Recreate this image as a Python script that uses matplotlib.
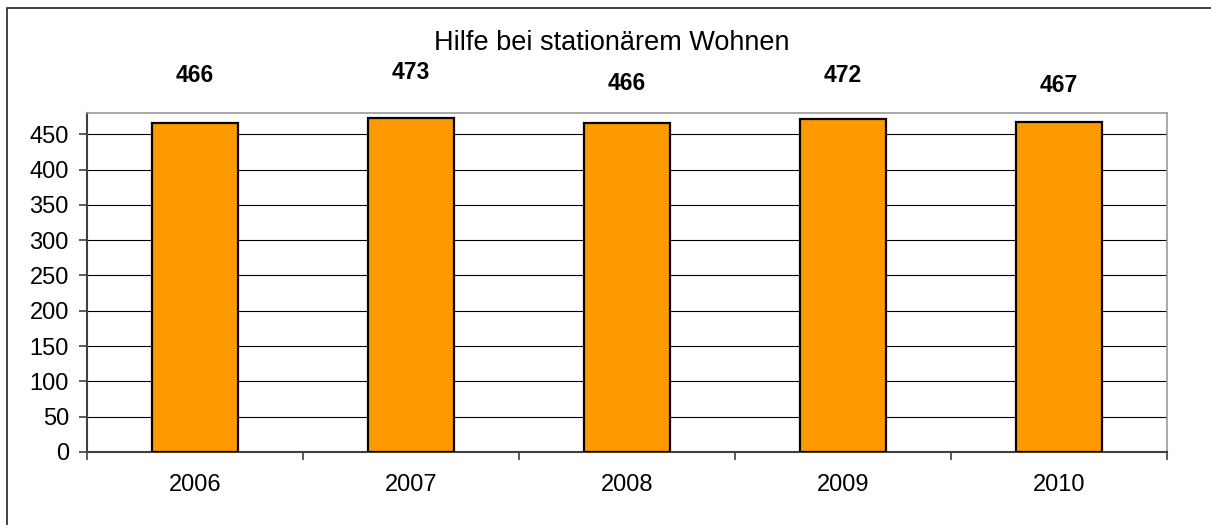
import matplotlib.pyplot as plt
from matplotlib.patches import Rectangle

years = ["2006", "2007", "2008", "2009", "2010"]
values = [466, 473, 466, 472, 467]

# label heights above bar tops, in pixels (Excel put them a bit unevenly)
label_offset_px = [47, 45, 39, 43, 37]

plt.rcParams['font.family'] = ['Liberation Sans', 'DejaVu Sans']

W, H = 1211, 525
fig = plt.figure(figsize=(W / 100, H / 100), dpi=100)

# outer chart border, cut off on the right and bottom like the original
fig.patches.append(Rectangle((7 / W, -0.2), 1.5, (H - 7.5) / H + 0.2,
                             transform=fig.transFigure, fill=False,
                             edgecolor='#222222', linewidth=1.2))

ax = fig.add_axes([87 / W, (H - 452) / H, 1080 / W, (452 - 113) / H])

x = list(range(len(years)))
ax.bar(x, values, width=0.395, color='#FF9900', edgecolor='black',
       linewidth=1.6, zorder=3)

ax.set_xlim(-0.5, len(years) - 0.5)
ax.set_ylim(0, 480)
ax.set_yticks(range(0, 451, 50))
ax.yaxis.grid(True, color='black', linewidth=0.8, zorder=0)

# ticks at category boundaries, labels at category centres
ax.set_xticks([i - 0.5 for i in range(len(years) + 1)])
ax.set_xticklabels([])
ax.set_xticks(x, minor=True)
ax.set_xticklabels(years, minor=True)
ax.tick_params(axis='x', which='major', length=6, width=1.2,
               color='#404040', direction='out')
ax.tick_params(axis='x', which='minor', length=0, pad=16, labelsize=17)
ax.tick_params(axis='y', length=6, width=1.2, color='#404040', pad=7,
               labelsize=17)

for side in ['left', 'bottom']:
    ax.spines[side].set_color('#404040')
    ax.spines[side].set_linewidth(1.5)
for side in ['top', 'right']:
    ax.spines[side].set_color('#999999')
    ax.spines[side].set_linewidth(1.2)

for xi, v, off in zip(x, values, label_offset_px):
    ax.annotate(str(v), (xi, v), xytext=(0, off * 0.72),
                textcoords='offset points', ha='center', va='center',
                fontsize=16.5, fontweight='bold', annotation_clip=False)

fig.text(612 / W, 1 - 43 / H, "Hilfe bei stationärem Wohnen",
         ha='center', va='center', fontsize=19.5)

fig.savefig('out.png', dpi=100)
